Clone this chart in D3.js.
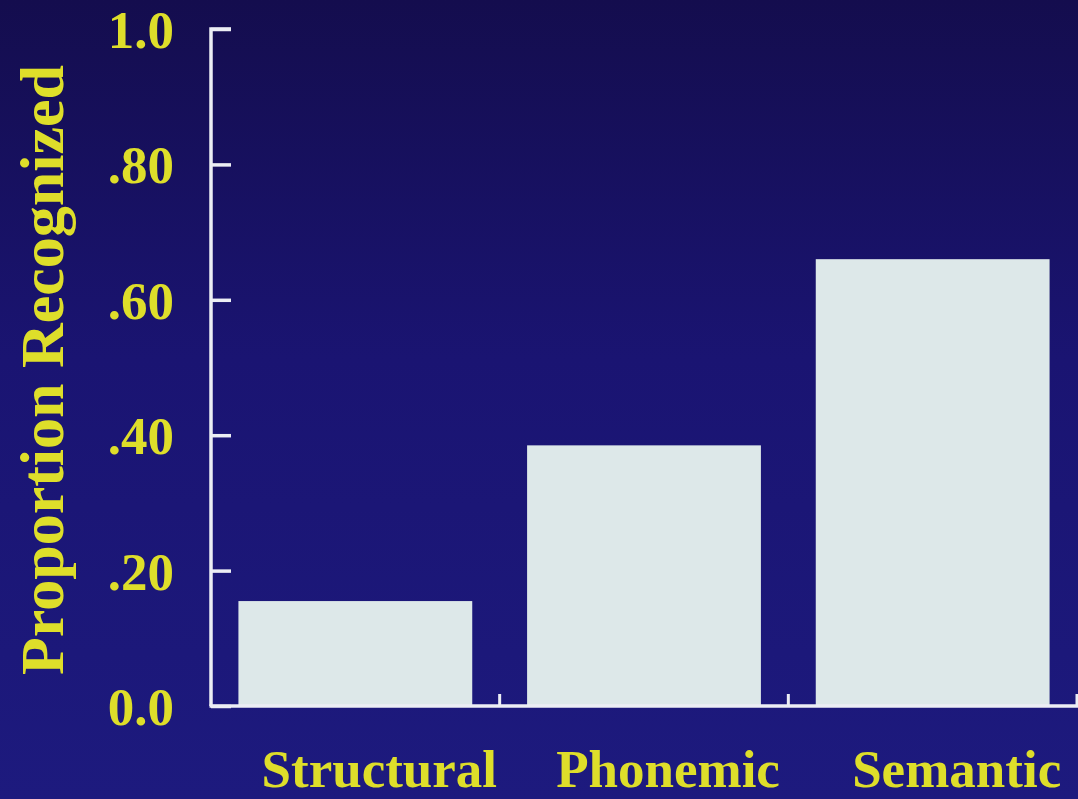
<!DOCTYPE html>
<html><head><meta charset="utf-8">
<script src="https://cdn.jsdelivr.net/npm/d3@7"></script>
<style>html,body{margin:0;padding:0;background:#1a1570;overflow:hidden}</style>
</head><body>
<script>
const categories = ["Structural", "Phonemic", "Semantic"];
const values = [0.155, 0.385, 0.66];
const yTicks = [0, 0.2, 0.4, 0.6, 0.8, 1.0];
const yTickLabels = ["0.0", ".20", ".40", ".60", ".80", "1.0"];
const yTitle = "Proportion Recognized";

const W = 1078, H = 799;
const svg = d3.select("body").append("svg").attr("width", W).attr("height", H);
const defs = svg.append("defs");
const g = defs.append("linearGradient").attr("id","bg").attr("x1",0).attr("y1",0).attr("x2",0).attr("y2",1);
g.append("stop").attr("offset","0%").attr("stop-color","#140d4e");
g.append("stop").attr("offset","45%").attr("stop-color","#1a1472");
g.append("stop").attr("offset","100%").attr("stop-color","#1d1a7e");
svg.append("rect").attr("width",W).attr("height",H).attr("fill","url(#bg)");

const x0 = 211, x1 = 1077, yTop = 29, yBot = 706;
const x = d3.scaleBand().domain(categories).range([x0, x1]).paddingInner(0.19).paddingOuter(0.095);
const xb = d3.scaleBand().domain(categories).range([x0, x1]);
const y = d3.scaleLinear().domain([0, 1]).range([yBot, yTop]);

const font = "'Liberation Serif', 'Times New Roman', serif";
const yellow = "#dede2a";
const axisCol = "#eceef4";

// bars
svg.selectAll("rect.bar").data(values).join("rect").attr("class","bar")
  .attr("x", (d,i) => x(categories[i]))
  .attr("width", x.bandwidth())
  .attr("y", d => y(d))
  .attr("height", d => y(0) - y(d))
  .attr("fill", "#dde8e9");

// y axis
const yAxis = d3.axisRight(y).tickValues(yTicks).tickSize(20).tickFormat("");
const ya = svg.append("g").attr("transform", `translate(${x0},0)`).call(yAxis);
ya.select(".domain").attr("d", `M20,${yTop}H0V${yBot}`).attr("stroke", axisCol).attr("stroke-width", 3.5).attr("fill","none");
ya.selectAll(".tick line").attr("stroke", axisCol).attr("stroke-width", 3.5);

// y labels
svg.selectAll("text.ytl").data(yTicks).join("text").attr("class","ytl")
  .attr("x", 174).attr("y", d => y(d) + 19)
  .attr("text-anchor","end")
  .attr("font-family", font).attr("font-weight","bold").attr("font-size", 53)
  .attr("fill", yellow)
  .text((d,i) => yTickLabels[i]);

// x axis
svg.append("line").attr("x1", x0 - 1.5).attr("x2", W).attr("y1", yBot).attr("y2", yBot)
  .attr("stroke", axisCol).attr("stroke-width", 3.5);
const boundaries = categories.map(c => xb(c) + xb.bandwidth());
svg.selectAll("line.xt").data(boundaries).join("line").attr("class","xt")
  .attr("x1", d => d).attr("x2", d => d).attr("y1", yBot).attr("y2", yBot - 12)
  .attr("stroke", axisCol).attr("stroke-width", 3);

// x labels
svg.selectAll("text.xl").data(categories).join("text").attr("class","xl")
  .attr("x", d => xb(d) + xb.bandwidth()/2 + 24).attr("y", 787)
  .attr("text-anchor","middle")
  .attr("font-family", font).attr("font-weight","bold").attr("font-size", 53)
  .attr("fill", yellow)
  .text(d => d);

// y title
svg.append("text")
  .attr("transform", "translate(63,370) rotate(-90)")
  .attr("text-anchor","middle")
  .attr("font-family", font).attr("font-weight","bold").attr("font-size", 62)
  .attr("fill", yellow)
  .text(yTitle);
</script>
</body></html>
